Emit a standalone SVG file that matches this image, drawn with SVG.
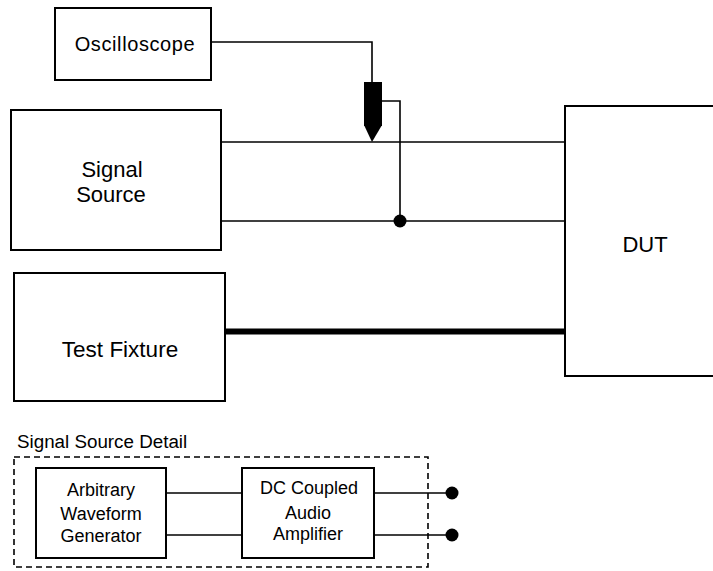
<svg xmlns="http://www.w3.org/2000/svg" width="713" height="571" viewBox="0 0 713 571">
<style>
.box{fill:#fff;stroke:#000;stroke-width:2}
.w{fill:none;stroke:#000;stroke-width:1.6}
.t{font-family:"Liberation Sans",Arial,sans-serif;fill:#000;text-anchor:middle}
.dot{fill:#000}
</style>
<rect width="713" height="571" fill="#fff"/>
<g id="connectors">
<polyline class="w" points="211,42 372,42 372,82"/>
<polyline class="w" points="382,101 400,101 400,221"/>
<line class="w" x1="221" y1="142" x2="565" y2="142"/>
<line class="w" x1="221" y1="221" x2="565" y2="221"/>
<line x1="225" y1="331.5" x2="565" y2="331.5" stroke="#000" stroke-width="6"/>
<circle class="dot" cx="400" cy="221" r="6.5"/>
<line class="w" x1="166" y1="493" x2="242" y2="493"/>
<line class="w" x1="166" y1="535" x2="242" y2="535"/>
<line class="w" x1="374" y1="493" x2="452" y2="493"/>
<line class="w" x1="374" y1="535" x2="452" y2="535"/>
<circle class="dot" cx="452" cy="493" r="6.5"/>
<circle class="dot" cx="452" cy="535" r="6.5"/>
</g>
<g id="probe">
<rect x="364" y="82" width="18" height="44" fill="#000"/>
<polygon points="364,125 382,125 372,142" fill="#000"/>
</g>
<g id="oscilloscope">
<rect class="box" x="55" y="8" width="156" height="72"/>
<text class="t" x="135" y="51" font-size="20" letter-spacing="0.6">Oscilloscope</text>
</g>
<g id="signal-source">
<rect class="box" x="11" y="110" width="210" height="140"/>
<text class="t" x="112" y="177" font-size="22">Signal</text>
<text class="t" x="111" y="202" font-size="22">Source</text>
</g>
<g id="test-fixture">
<rect class="box" x="14" y="273" width="211" height="128"/>
<text class="t" x="120" y="357" font-size="22.5">Test Fixture</text>
</g>
<g id="dut">
<rect class="box" x="565" y="106" width="160" height="270"/>
<text class="t" x="645" y="252" font-size="22">DUT</text>
</g>
<g id="detail">
<text x="17" y="448" font-family="Liberation Sans,Arial,sans-serif" font-size="18.8">Signal Source Detail</text>
<rect x="14" y="457" width="414" height="110" fill="none" stroke="#000" stroke-width="1.6" stroke-dasharray="6,4"/>
</g>
<g id="awg">
<rect class="box" x="36" y="468" width="130" height="90"/>
<text class="t" x="101" y="496" font-size="18">Arbitrary</text>
<text class="t" x="101" y="520" font-size="18">Waveform</text>
<text class="t" x="101" y="542" font-size="18">Generator</text>
</g>
<g id="amplifier">
<rect class="box" x="242" y="468" width="132" height="90"/>
<text class="t" x="309" y="494" font-size="18">DC Coupled</text>
<text class="t" x="308" y="519" font-size="18">Audio</text>
<text class="t" x="308" y="540" font-size="18">Amplifier</text>
</g>
</svg>
